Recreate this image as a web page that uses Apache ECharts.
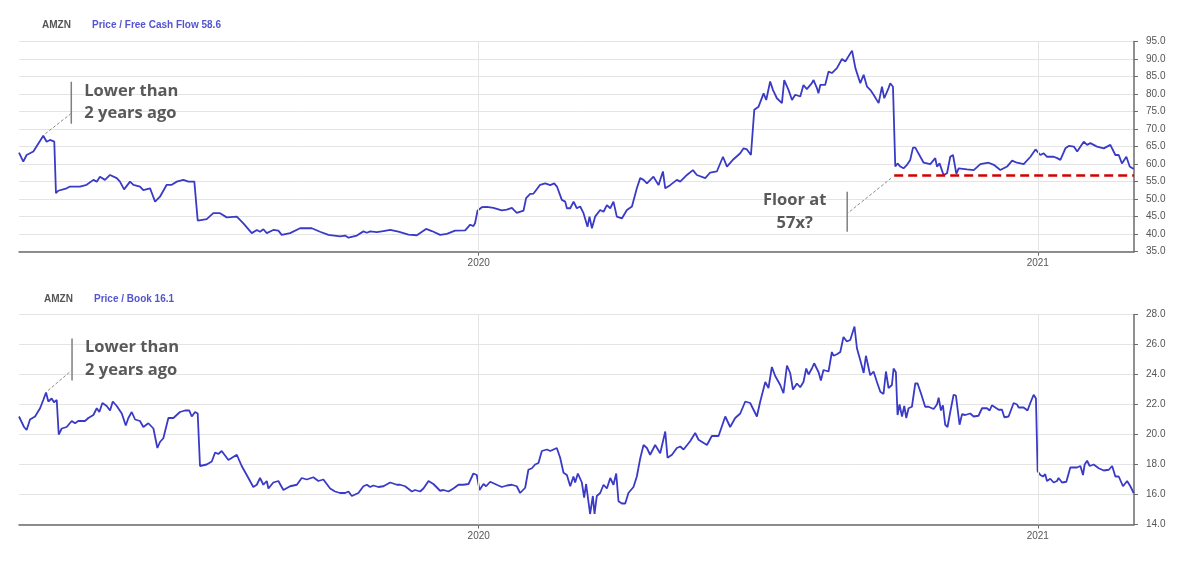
<!DOCTYPE html>
<html>
<head>
<meta charset="utf-8">
<script src="https://cdn.jsdelivr.net/npm/echarts@6/dist/echarts.min.js"></script>
<style>
html,body{margin:0;padding:0;background:#fff;}
#chart{width:1200px;height:562px;}
</style>
</head>
<body>
<div id="chart"></div>
<script>
// ---- data (day offsets counted from the first date) ----
const startDate = [2019, 2, 6];          // 2019-03-06
const spanDays = 730;                    // through 2021-03-05
const yearTickDates = ['2020-01-01', '2021-01-01'];
const ticker = 'AMZN';
const fcfLabel = 'Price / Free Cash Flow';
const pbLabel = 'Price / Book';
const fcfTicks = [35, 95, 5];
const pbTicks = [14, 28, 2];
const floorValue = 56.7;
const floorStartDay = 573.0;

const fcfDays = [0,2.8,5.0,9.4,15.9,18.1,20.3,23.1,24.2,25.7,31.2,33.4,39.9,44.3,48.7,50.9,53.0,56.3,59.6,64.0,66.1,68.8,72.7,74.9,79.2,81.4,85.8,89.1,92.3,96.7,100.0,103.3,107.6,110.9,114.8,117.0,122.9,127.2,131.6,136.0,142.6,146.9,152.4,155.7,157.8,160.0,162.2,166.5,169.8,172.0,177.5,184.0,191.7,197.1,202.6,
210.2,213.5,215.7,221.2,225.5,227.7,229.9,234.3,238.6,243.0,248.4,255.0,260.5,266.5,270.3,275.7,280.1,285.5,292.1,295.4,297.5,298.6,300.2,303.0,306.3,310.6,316.1,319.4,322.7,325.9,330.3,332.0,334.7,336.9,341.2,
344.5,347.8,350.4,352.2,355.4,357.6,358.7,360.9,363.1,365.2,367.4,369.6,372.2,373.5,375.1,377.2,380.5,382.7,384.9,387.1,389.2,391.4,394.7,398.0,401.3,404.5,406.7,408.9,411.1,415.4,418.7,421.6,423.1,426.3,430.7,432.9,437.3,441.2,443.8,449.3,452.5,456.9,460.9,463.5,467.8,472.2,474.4,476.6,479.2,481.4,484.2,487.5,489.2,491.8,493.6,496.2,499.5,501.0,503.8,506.1,508.2,
511.5,513.6,515.8,519.1,520.2,522.4,523.4,524.6,527.8,530.0,532.2,535.5,538.8,541.0,545.4,547.6,550.8,553.0,555.2,557.3,559.5,562.8,565.0,566.5,569.3,570.4,572.2,573.7,575.2,577.0,579.1,581.4,583.5,585.3,586.8,590.1,592.3,596.6,599.9,601.0,602.7,605.3,607.6,609.7,611.5,613.7,615.2,620.7,625.1,629.4,634.8,638.2,642.5,646.9,650.2,653.4,657.8,662.2,665.5,668.7,670.9,673.1,677.5,679.7,681.8,685.1,687.3,690.6,692.8,697.1,699.3,701.4,705.8,710.2,714.5,717.8,720.0,722.1,725.0,727.2,729.8];

const fcfValues = [63.3,60.7,62.6,63.6,68.1,66.4,66.9,66.4,51.7,52.4,53.1,53.6,53.6,54.1,55.5,55.0,56.4,55.5,56.9,56.0,55.0,52.8,55.0,54.1,53.6,52.6,53.1,49.3,50.7,54.1,54.1,55.0,55.5,55.0,55.0,43.9,44.3,46.0,46.0,44.8,45.0,43.1,40.3,41.2,40.7,41.4,40.3,41.2,41.0,39.8,40.3,41.7,41.7,40.7,39.8,
39.4,39.6,39.0,39.6,40.8,40.4,40.8,40.6,40.9,41.2,40.7,39.9,39.7,41.5,40.9,39.8,40.1,41.0,41.1,42.7,42.3,43.2,46.7,47.7,47.8,47.5,46.8,47.0,47.5,46.1,46.7,50.3,51.5,51.6,54.1,
54.5,54.0,54.5,53.6,49.8,49.3,47.4,47.4,49.3,47.4,47.9,46.0,42.1,45.0,41.7,45.0,46.9,46.4,48.3,47.4,49.3,45.0,44.5,46.9,47.9,53.1,56.0,55.5,54.5,56.4,54.0,57.9,53.1,54.0,55.5,55.0,56.9,58.3,56.9,56.0,57.6,57.9,62.1,59.3,61.4,63.1,64.5,64.2,62.6,75.5,76.4,80.2,78.3,83.6,81.2,78.8,77.4,84.0,81.2,78.3,79.8,
79.3,82.6,81.4,83.1,84.0,81.7,80.2,82.6,82.6,86.4,86.0,87.4,90.0,89.3,92.4,87.4,83.1,85.5,82.1,81.2,79.8,77.4,82.1,78.8,81.7,83.1,82.1,59.3,60.2,59.3,58.8,59.8,61.2,64.7,64.7,62.1,60.4,60.0,61.7,59.3,60.2,56.9,57.4,62.1,62.6,57.2,58.8,58.5,58.3,60.0,60.4,59.8,58.3,59.3,61.0,60.4,60.0,62.1,64.2,62.6,63.1,62.1,62.1,61.7,61.2,64.5,65.2,65.0,63.6,66.4,65.5,66.0,65.0,64.5,65.5,62.6,62.6,60.2,62.1,59.3,58.6];

const pbDays = [0,3.3,5.0,7.2,10.5,13.8,15.9,17.7,19.2,21.4,22.9,24.7,26.0,28.0,31.2,34.5,36.7,38.8,43.2,45.4,48.7,50.9,52.6,54.6,57.4,59.6,61.4,64.0,67.3,69.9,71.6,73.8,76.0,79.2,81.4,84.7,88.0,90.6,92.3,94.5,97.8,101.1,105.4,108.7,111.5,113.1,115.3,117.0,118.5,122.9,126.2,128.4,130.5,132.7,137.1,142.6,145.8,149.1,153.4,155.7,157.8,160.0,162.2,163.3,166.5,169.8,173.1,177.5,181.9,185.1,188.4,192.7,196.0,199.3,203.7,206.9,210.2,213.5,215.7,217.9,222.2,225.5,227.7,229.9,232.0,235.3,238.6,243.0,247.4,
249.5,252.8,257.2,259.3,262.6,264.8,268.1,271.3,275.7,277.9,281.2,284.4,287.7,291.0,294.3,297.5,299.7,301.5,304.1,305.8,308.5,312.8,316.1,319.4,322.7,325.9,328.1,331.4,333.5,335.8,337.9,340.1,342.3,345.6,347.8,352.1,354.3,356.5,358.7,360.9,363.0,364.1,365.9,368.5,370.0,371.3,373.9,375.7,376.8,378.3,380.5,382.7,384.9,387.1,389.2,391.0,392.5,394.7,396.9,399.0,402.3,404.5,406.7,408.9,411.1,413.2,416.5,419.8,423.1,424.6,427.5,430.7,432.9,435.1,439.4,442.7,444.9,450.4,453.6,458.0,462.4,465.6,468.9,472.2,475.5,478.7,483.1,485.3,488.6,490.7,492.9,495.1,498.4,500.5,502.8,504.9,506.7,509.3,
511.5,513.6,515.4,516.9,519.1,520.6,523.5,525.0,526.7,530.0,532.2,533.3,535.5,537.7,539.8,542.0,544.2,547.0,548.6,550.8,553.0,554.5,557.3,559.5,561.7,563.9,566.0,567.6,569.3,571.5,572.6,574.1,575.2,576.5,578.1,579.6,580.9,582.4,584.6,586.8,588.3,590.5,593.3,595.5,598.8,601.0,602.1,603.6,604.9,606.4,607.9,609.7,611.9,613.4,615.8,617.4,619.5,622.8,625.0,628.2,630.5,633.7,635.5,637.0,641.4,643.6,645.1,647.9,651.2,653.4,654.5,657.7,660.3,662.1,664.3,665.8,666.9,668.7,670.4,671.9,673.0,675.2,676.3,677.4,679.6,680.6,682.9,685.7,688.3,690.5,692.7,694.9,696.6,697.7,699.3,701.0,703.6,706.9,710.2,713.5,715.7,717.8,720.0,722.8,725.5,727.6,729.8];

const pbValues = [21.2,20.5,20.3,21.0,21.2,21.75,22.3,22.8,22.2,22.4,22.15,22.3,20.0,20.4,20.5,20.9,20.75,20.9,20.9,21.1,21.3,21.75,21.5,22.1,21.9,21.6,22.2,21.9,21.4,20.6,21.1,21.5,21.0,20.9,20.5,20.75,20.4,19.1,19.5,19.75,21.1,21.1,21.5,21.6,21.6,21.2,21.5,21.4,17.9,18.0,18.2,18.8,18.7,18.9,18.3,18.65,17.9,17.3,16.5,16.65,17.1,16.65,16.9,16.4,16.8,16.9,16.3,16.55,16.65,17.1,17.0,17.15,16.9,17.0,16.4,16.2,16.1,16.1,16.2,15.9,16.1,16.55,16.65,16.5,16.6,16.5,16.55,16.8,16.65,
16.65,16.55,16.2,16.3,16.2,16.4,16.9,16.7,16.25,16.3,16.2,16.4,16.65,16.65,16.7,17.4,17.3,16.3,16.7,16.55,16.85,16.65,16.5,16.6,16.65,16.55,16.1,16.45,17.65,17.75,18.0,18.1,18.9,19.0,18.9,19.1,18.45,17.45,17.3,16.55,17.2,16.8,17.4,16.8,15.8,16.7,14.7,15.9,14.7,15.9,16.1,16.65,16.4,17.1,16.65,17.4,15.55,15.4,15.4,16.1,16.5,17.2,18.4,19.3,19.1,18.65,19.3,18.75,20.2,18.45,18.65,19.1,19.2,19.0,19.55,20.1,19.65,19.3,19.9,19.9,21.2,20.5,21.1,21.4,22.2,22.1,21.2,22.2,23.5,23.1,24.5,23.9,23.3,22.75,24.6,24.1,23.0,23.4,
23.15,23.5,24.4,24.0,24.4,24.75,24.15,23.6,24.3,24.2,25.5,25.25,25.35,25.5,26.5,26.2,26.3,27.2,25.75,24.95,24.1,25.25,23.95,24.2,23.5,22.85,22.7,24.2,23.1,23.3,24.4,24.15,21.3,22.0,21.2,21.9,21.1,21.75,21.85,23.4,23.4,22.75,21.85,21.85,21.7,22.0,22.45,21.6,21.95,20.65,20.5,21.5,22.65,22.6,20.65,21.35,21.3,21.4,21.2,21.25,21.75,21.75,21.6,21.95,21.65,21.65,21.15,21.2,22.1,22.0,21.8,21.8,21.6,22.1,22.65,22.4,17.55,17.3,17.2,17.35,16.9,17.05,17.15,16.8,16.9,17.1,16.8,16.85,17.8,17.8,17.8,17.9,17.3,18.0,18.25,17.9,18.0,17.75,17.6,17.65,17.9,17.2,17.2,16.55,16.9,16.55,16.1];

// ---- build ----
const DAY = 86400000;
const base = new Date(startDate[0], startDate[1], startDate[2]).getTime();
const toTs = d => base + d * DAY;
const xMin = base, xMax = toTs(spanDays);
const yearTs = yearTickDates.map(s => { const p = s.split('-').map(Number); return new Date(p[0], p[1]-1, p[2]).getTime(); });
const fcfData = fcfDays.map((d, i) => [toTs(d), fcfValues[i]]);
const pbData = pbDays.map((d, i) => [toTs(d), pbValues[i]]);

const LINE = '#3a3ac6';
const AXIS = '#6b6b6b';
const GRIDC = '#e4e4e4';
const LABEL = '#555';
const FONT = 'Liberation Sans, Arial, sans-serif';

const chart = echarts.init(document.getElementById('chart'), null, {renderer: 'canvas'});

function xAxisDef(i) {
  return {
    type: 'value', gridIndex: i, min: xMin, max: xMax, scale: true,
    axisLine: {show: true, onZero: false, lineStyle: {color: AXIS, width: 1.5}},
    axisTick: {show: true, customValues: yearTs, length: 4, lineStyle: {color: AXIS}},
    axisLabel: {show: true, customValues: yearTs, color: LABEL, fontSize: 10, fontFamily: FONT, margin: 7,
      formatter: v => String(new Date(v).getFullYear())},
    splitLine: {show: false}
  };
}
function yAxisDef(i, t) {
  return {
    type: 'value', gridIndex: i, position: 'right', min: t[0], max: t[1], interval: t[2],
    axisLine: {show: true, onZero: false, lineStyle: {color: AXIS, width: 1.5}},
    axisTick: {show: true, length: 4, lineStyle: {color: AXIS}},
    axisLabel: {color: LABEL, fontSize: 10, fontFamily: FONT, margin: 12, formatter: v => v.toFixed(1)},
    splitLine: {show: true, lineStyle: {color: GRIDC, width: 1}}
  };
}
function yearLines(i) {
  return {
    type: 'line', xAxisIndex: i, yAxisIndex: i, data: [], z: 1, silent: true,
    markLine: {silent: true, symbol: 'none', label: {show: false},
      lineStyle: {color: GRIDC, width: 1, type: 'solid'},
      data: yearTs.map(t => ({xAxis: t}))}
  };
}

const titleStyle = {fontSize: 10, fontWeight: 'bold', fontFamily: FONT};
const option = {
  animation: false,
  backgroundColor: '#fff',
  title: [
    {text: ticker, left: 42, top: 20, padding: 0, textStyle: Object.assign({color: '#555'}, titleStyle)},
    {text: fcfLabel + ' ' + fcfValues[fcfValues.length-1].toFixed(1), left: 92, top: 20, padding: 0, textStyle: Object.assign({color: '#5454d0'}, titleStyle)},
    {text: ticker, left: 44, top: 294, padding: 0, textStyle: Object.assign({color: '#555'}, titleStyle)},
    {text: pbLabel + ' ' + pbValues[pbValues.length-1].toFixed(1), left: 94, top: 294, padding: 0, textStyle: Object.assign({color: '#5454d0'}, titleStyle)}
  ],
  grid: [
    {left: 19, right: 66, top: 41.5, height: 210.2},
    {left: 19, right: 66, top: 314.5, height: 210}
  ],
  xAxis: [xAxisDef(0), xAxisDef(1)],
  yAxis: [yAxisDef(0, fcfTicks), yAxisDef(1, pbTicks)],
  series: [
    yearLines(0),
    {
      type: 'line', name: fcfLabel, xAxisIndex: 0, yAxisIndex: 0, data: fcfData, z: 3,
      showSymbol: false, symbol: 'none', lineStyle: {color: LINE, width: 1.8},
      markLine: {silent: true, symbol: 'none', label: {show: false},
        lineStyle: {color: '#d40000', width: 2.6, type: [9, 5]},
        data: [[{coord: [toTs(floorStartDay), floorValue]}, {coord: [xMax, floorValue]}]]}
    },
    yearLines(1),
    {
      type: 'line', name: pbLabel, xAxisIndex: 1, yAxisIndex: 1, data: pbData, z: 3,
      showSymbol: false, symbol: 'none', lineStyle: {color: LINE, width: 1.8}
    }
  ]
};
chart.setOption(option);

// ---- annotations anchored to data points ----
const NOTE_FONT = 'bold 16.5px "Open Sans", sans-serif';
const NOTE_COLOR = '#595959';
function px(i, d, v) { return chart.convertToPixel({xAxisIndex: i, yAxisIndex: i}, [toTs(d), v]); }
function lowerNote(i, d, v, dx) {
  const [ax, ay] = px(i, d, v);
  return [
    {type: 'line', silent: true, shape: {x1: ax + 2, y1: ay - 2, x2: ax + dx - 0.5, y2: ay - 22},
      style: {stroke: '#8c8c8c', lineWidth: 1, lineDash: [3, 2]}},
    {type: 'line', silent: true, shape: {x1: ax + dx, y1: ay - 54, x2: ax + dx, y2: ay - 12},
      style: {stroke: '#7f7f7f', lineWidth: 1.5}},
    {type: 'text', silent: true, style: {text: 'Lower than\n2 years ago', x: ax + dx + 13, y: ay - 56,
      font: NOTE_FONT, fill: NOTE_COLOR, lineHeight: 22.5, textVerticalAlign: 'top'}}
  ];
}
function floorNote(d, v) {
  const [fx, fy] = px(0, d, v);
  return [
    {type: 'line', silent: true, shape: {x1: fx - 3, y1: fy + 2.5, x2: fx - 46.5, y2: fy + 37.5},
      style: {stroke: '#8c8c8c', lineWidth: 1, lineDash: [3, 2]}},
    {type: 'line', silent: true, shape: {x1: fx - 47, y1: fy + 16, x2: fx - 47, y2: fy + 56},
      style: {stroke: '#7f7f7f', lineWidth: 1.5}},
    {type: 'text', silent: true, style: {text: 'Floor at\n57x?', x: fx - 99.5, y: fy + 12.5,
      font: NOTE_FONT, fill: NOTE_COLOR, lineHeight: 23.5, textAlign: 'center', textVerticalAlign: 'top'}}
  ];
}
chart.setOption({graphic: [].concat(
  lowerNote(0, fcfDays[4], fcfValues[4], 28),
  lowerNote(1, pbDays[7], pbValues[7], 26),
  floorNote(floorStartDay, floorValue)
)});
</script>
</body>
</html>
